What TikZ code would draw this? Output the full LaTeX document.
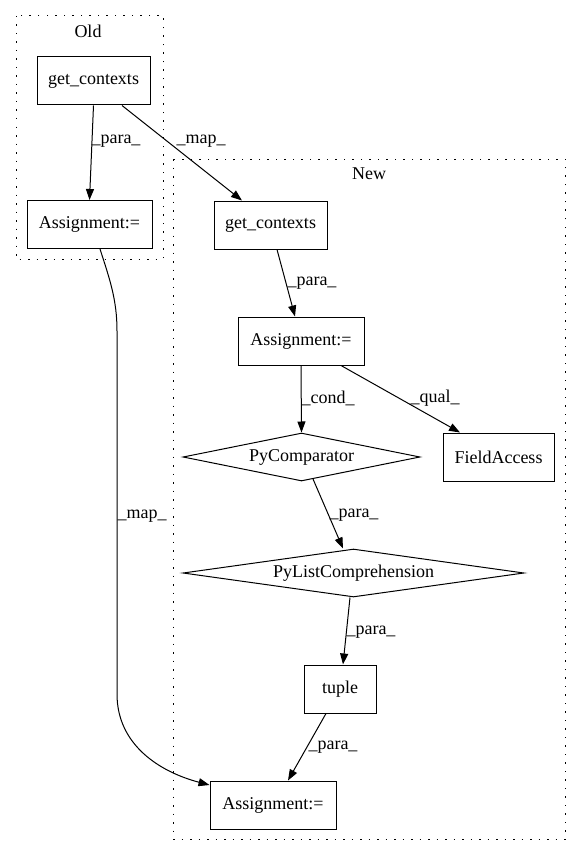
\documentclass[tikz,border=0pt]{standalone}
\usepackage{fontspec}
\setmainfont{Liberation Serif}
\usetikzlibrary{arrows.meta,shapes.geometric,calc}
\begin{document}
\begin{tikzpicture}[x=1pt,y=-1pt,
  txt/.style={font=\fontsize{18pt}{20pt}\selectfont},
  box/.style={txt,draw,line width=1pt,rectangle,inner sep=0pt,minimum height=48pt},
  dia/.style={txt,draw,line width=1pt,diamond,shape aspect=6,inner sep=0pt,minimum height=48pt},
  edge/.style={line width=1pt,-{Triangle[length=11pt,width=8pt]}},
  lbl/.style={txt,inner sep=0pt},
  cluster/.style={line width=1pt,dash pattern=on 1.5pt off 7pt}]
\useasboundingbox (0,0) rectangle (581,856);
% clusters
\draw[cluster] (16,16) rectangle (163,259);
\node[lbl] (oldlbl) at (88,31) {Old};
\draw[cluster] (173,159) rectangle (565,839);
\node[lbl] (newlbl) at (369,174) {New};
% nodes
\node[box,minimum width=113pt] (g1) at (93.5,81) {get\_contexts};
\node[box,minimum width=125pt] (a1) at (89.5,224.5) {Assignment:=};
\node[box,minimum width=113pt] (g2) at (270.5,225) {get\_contexts};
\node[box,minimum width=126pt] (a2) at (301,341) {Assignment:=};
\node[dia,minimum width=237pt] (pc) at (301.5,457) {PyComparator};
\node[box,minimum width=111pt] (fa) at (498.5,457) {FieldAccess};
\node[dia,minimum width=341pt,shape aspect=7] (plc) at (353.5,573) {PyListComprehension};
\node[box,minimum width=72pt] (tp) at (340,689) {tuple};
\node[box,minimum width=126pt] (a3) at (273,805) {Assignment:=};
% edges
\draw[edge] (g1.south) -- (a1.north) node[lbl] (l1) at (116,141) {\_para\_};
\draw[edge] ($(g1.south)+(28.5,0)$) -- ($(g2.north)+(-28.5,0)$) node[lbl] (l2) at (201,141) {\_map\_};
\draw[edge] ($(g2.south)+(6.5,0)$) -- ($(a2.north)+(-6,0)$) node[lbl] (l3) at (312,283) {\_para\_};
\draw[edge] (a2.south) -- (pc.north) node[lbl] (l4) at (328,398) {\_cond\_};
\draw[edge] ($(a2.south)+(40,0)$) -- ($(fa.north)+(-38.5,0)$) node[lbl] (l5) at (435,398) {\_qual\_};
\draw[edge] ($(pc.center)+(11.5,22)$) -- ($(plc.north)+(-10.5,0)$) node[lbl] (l6) at (354,515) {\_para\_};
\draw[edge] ($(plc.south)+(-3.5,0)$) -- ($(tp.north)+(3,0)$) node[lbl] (l7) at (371,632) {\_para\_};
\draw[edge] ($(tp.south)+(-14,0)$) -- ($(a3.north)+(15,0)$) node[lbl] (l8) at (333,747) {\_para\_};
\draw[edge] ($(a1.south)+(10.5,0)$) .. controls (110,280) and (117,300) .. (117,331)
  -- (117,694)
  .. controls (117,745) and (160,772) .. ($(a3.west)+(0,-20)$);
\node[lbl] (l9) at (142,516) {\_map\_};
\end{tikzpicture}
\end{document}
